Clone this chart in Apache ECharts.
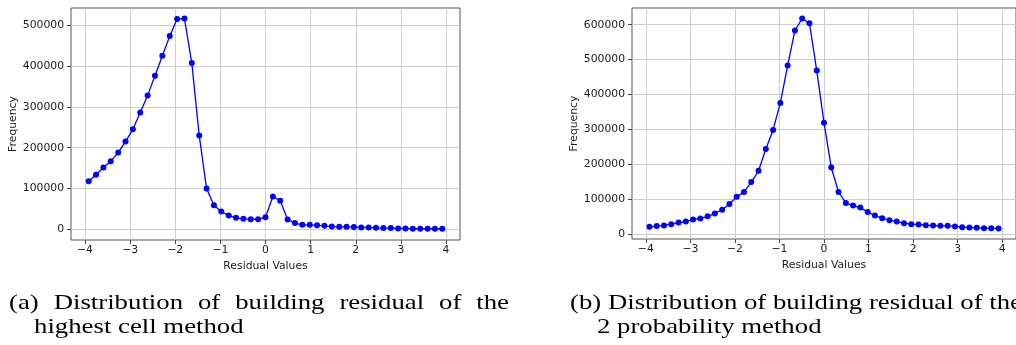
<!DOCTYPE html>
<html>
<head>
<meta charset="utf-8">
<script src="https://cdn.jsdelivr.net/npm/echarts@6/dist/echarts.min.js"></script>
<style>
html,body{margin:0;padding:0;background:#fff;}
#c{width:1016px;height:345px;}
</style>
</head>
<body>
<div id="c"></div>
<script>
// Bin centres (residual values)
const residuals = [-3.918,-3.755,-3.592,-3.429,-3.265,-3.102,-2.939,-2.776,-2.612,-2.449,-2.286,-2.122,-1.959,-1.796,-1.633,-1.469,-1.306,-1.143,-0.980,-0.816,-0.653,-0.490,-0.327,-0.163,0.000,0.163,0.327,0.490,0.653,0.816,0.980,1.143,1.306,1.469,1.633,1.796,1.959,2.122,2.286,2.449,2.612,2.776,2.939,3.102,3.265,3.429,3.592,3.755,3.918];

// (a) highest cell method
const freqHighestCell = [118000,134000,151500,167000,188000,215000,245000,286000,328000,376000,425000,473000,515000,516000,407000,230000,100000,59000,44000,34000,28500,26000,25000,25000,30000,80600,70000,24500,15500,11400,11400,10000,9000,7500,6500,6500,5700,4900,4900,4000,3300,3300,2500,2500,1700,1700,1700,1700,1700];

// (b) 2 probability method
const freqTwoProb = [21000,23000,25000,28500,33000,36000,42000,44700,51000,59000,70000,86500,107000,121000,149000,181500,244000,298500,376000,483000,583600,617900,604500,468600,319400,191000,120700,89400,81700,76000,63700,53200,45600,40000,36100,31400,28500,27600,25700,24700,23800,23800,21900,20000,19000,18000,17100,17100,16200];

const xTicks = [-4,-3,-2,-1,0,1,2,3,4];
const yTicksA = [0,100000,200000,300000,400000,500000];
const yTicksB = [0,100000,200000,300000,400000,500000,600000];
const xAxisTitle = 'Residual Values';
const yAxisTitle = 'Frequency';
const captionA = ['(a) Distribution of building residual of the', 'highest cell method'];
const captionB = ['(b) Distribution of building residual of the', '2 probability method'];

const chart = echarts.init(document.getElementById('c'), null, {renderer:'canvas'});

const tickFont = {fontFamily:'DejaVu Sans', fontSize:10.8, color:'#1a1a1a'};
function fmt(v){ return v < 0 ? '\u2212' + Math.abs(v) : String(v); }

function xAxis(gi){
  return {
    type:'value', gridIndex:gi, min:-4.31, max:4.31, splitNumber:8,
    name:xAxisTitle, nameLocation:'middle', nameGap:17,
    nameTextStyle:{fontFamily:'DejaVu Sans', fontSize:10.8, color:'#1a1a1a'},
    axisLine:{show:false, onZero:false},
    axisTick:{show:true, length:4, lineStyle:{color:'#444'}, customValues:xTicks},
    axisLabel:Object.assign({margin:5, formatter:fmt, customValues:xTicks}, tickFont),
    splitLine:{show:true, lineStyle:{color:'#cdcdcd', width:1}}
  };
}
function yAxis(gi, min, max, ticks){
  return {
    type:'value', gridIndex:gi, min:min, max:max, splitNumber:6,
    name:yAxisTitle, nameLocation:'middle', nameGap:45,
    nameTextStyle:{fontFamily:'DejaVu Sans', fontSize:10.8, color:'#1a1a1a'},
    axisLine:{show:false, onZero:false},
    axisTick:{show:true, length:4, lineStyle:{color:'#444'}, customValues:ticks},
    axisLabel:Object.assign({margin:7, formatter:fmt, customValues:ticks}, tickFont),
    splitLine:{show:true, lineStyle:{color:'#cdcdcd', width:1}}
  };
}

// caption layout using real text measurement
const cv = document.createElement('canvas').getContext('2d');
const capSize = 21.5;
const capFam = '"Liberation Serif", serif';
cv.font = capSize + 'px ' + capFam;
const mw = t => cv.measureText(t).width;
const capScale = 452 / mw(captionB[0]);
const graphics = [];
function addText(t, x, y){
  graphics.push({type:'text', x:x, y:y, scaleX:capScale, scaleY:1,
    style:{text:t, x:0, y:0, align:'left', verticalAlign:'middle',
      fontSize:capSize, fontFamily:capFam, fill:'#000'}});
}
// justified first line for (a)
(function(){
  const words = captionA[0].split(' ');
  const left = 9, right = 509;
  const widths = words.map(w => mw(w) * capScale);
  const sum = widths.reduce((a,b)=>a+b,0);
  const gap = (right - left - sum) / (words.length - 1);
  let x = left;
  words.forEach((w,i)=>{ addText(w, x, 303); x += widths[i] + gap; });
})();
addText(captionA[1], 34, 327);
addText(captionB[0], 570, 303);
addText(captionB[1], 597, 327);

const option = {
  backgroundColor:'#fff',
  animation:false,
  grid:[
    {left:71, top:8, width:389, height:232, show:true, borderColor:'#555', borderWidth:1, backgroundColor:'transparent'},
    {left:632, top:8, width:390, height:231, show:true, borderColor:'#555', borderWidth:1, backgroundColor:'transparent'}
  ],
  xAxis:[xAxis(0), xAxis(1)],
  yAxis:[
    yAxis(0, -25800, 541800, yTicksA),
    yAxis(1, -14000, 648000, yTicksB)
  ],
  series:[
    {type:'line', xAxisIndex:0, yAxisIndex:0, data:residuals.map((x,i)=>[x, freqHighestCell[i]]),
     symbol:'circle', symbolSize:6, showSymbol:true, lineStyle:{color:'#0000ff', width:1.3},
     itemStyle:{color:'#0000ff'}},
    {type:'line', xAxisIndex:1, yAxisIndex:1, data:residuals.map((x,i)=>[x, freqTwoProb[i]]),
     symbol:'circle', symbolSize:6, showSymbol:true, lineStyle:{color:'#0000ff', width:1.3},
     itemStyle:{color:'#0000ff'}}
  ],
  graphic:graphics
};
chart.setOption(option);
</script>
</body>
</html>
